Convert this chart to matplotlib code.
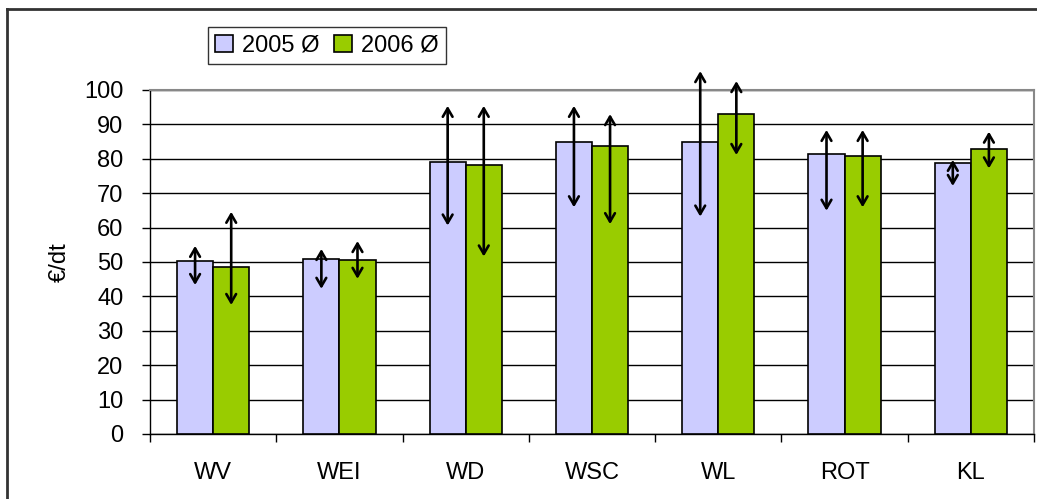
import numpy as np
import matplotlib
matplotlib.use("Agg")
import matplotlib.pyplot as plt
from matplotlib.lines import Line2D

plt.rcParams['font.family'] = ['Liberation Sans', 'DejaVu Sans']

# Categories and mean prices per year (€/dt)
categories = ["WV", "WEI", "WD", "WSC", "WL", "ROT", "KL"]
mean_2005 = [50.3, 50.8, 79.0, 84.8, 84.8, 81.4, 78.9]
mean_2006 = [48.6, 50.7, 78.1, 83.7, 92.9, 80.8, 82.8]

# Price range (min / max) shown as double arrows
low_2005 = [43.3, 42.2, 60.6, 65.9, 63.2, 64.9, 72.1]
high_2005 = [54.7, 53.8, 95.4, 95.4, 105.5, 88.4, 79.7]
low_2006 = [37.5, 45.1, 51.6, 61.0, 81.1, 65.9, 77.2]
high_2006 = [64.6, 56.1, 95.4, 93.0, 102.6, 88.4, 87.9]

W, H = 1037, 499
fig = plt.figure(figsize=(W / 100, H / 100), dpi=100)
ax = fig.add_axes([150 / W, 65 / H, 884 / W, 344 / H])

x = np.arange(len(categories))
bw = 0.286
fs = 17

ax.bar(x - bw / 2, mean_2005, bw, color="#ccccff", edgecolor="black", lw=1.2,
       label="2005 Ø", zorder=3)
ax.bar(x + bw / 2, mean_2006, bw, color="#99cc00", edgecolor="black", lw=1.2,
       label="2006 Ø", zorder=3)

# min/max arrows
style = "<->,head_length=0.6,head_width=0.35"
for xs, lo, hi in [(x - bw / 2, low_2005, high_2005), (x + bw / 2, low_2006, high_2006)]:
    for xi, l, h in zip(xs, lo, hi):
        ax.annotate("", xy=(xi, h), xytext=(xi, l),
                    arrowprops=dict(arrowstyle=style, lw=1.9, color="black",
                                    shrinkA=0, shrinkB=0),
                    annotation_clip=False, zorder=5)

ax.set_xlim(-0.5, len(categories) - 0.5)
ax.set_ylim(0, 100)
ax.set_yticks(np.arange(0, 101, 10))
ax.yaxis.grid(True, color="black", lw=1)
ax.set_axisbelow(True)

ax.set_xticks(x)
ax.set_xticklabels(categories)
ax.set_xticks(np.arange(-0.5, len(categories), 1), minor=True)
ax.tick_params(axis="x", which="major", length=0, pad=20, labelsize=fs)
ax.tick_params(axis="x", which="minor", length=6, width=1, direction="out")
ax.tick_params(axis="y", length=6, width=1, direction="out", pad=13, labelsize=fs)

for side in ["top", "right"]:
    ax.spines[side].set_color("#888888")
    ax.spines[side].set_linewidth(1.5)
ax.spines["left"].set_linewidth(1)
ax.spines["bottom"].set_linewidth(1)

ax.set_ylabel("€/dt", fontsize=fs, labelpad=10)

leg = fig.legend(loc="center", bbox_to_anchor=(327 / W, 1 - 45.5 / H), ncol=2,
                 fontsize=fs, frameon=True, fancybox=False, handlelength=0.75,
                 handleheight=0.75, handletextpad=0.4, columnspacing=0.6,
                 borderpad=0.3)
leg.get_frame().set_edgecolor("black")
leg.get_frame().set_linewidth(1)

# outer chart frame
fig.add_artist(Line2D([7 / W, 7 / W], [0, 1 - 9 / H], color="#333333", lw=2,
                      transform=fig.transFigure))
fig.add_artist(Line2D([7 / W, 1], [1 - 9 / H, 1 - 9 / H], color="#333333", lw=2,
                      transform=fig.transFigure))

fig.savefig("out.png", dpi=100)
